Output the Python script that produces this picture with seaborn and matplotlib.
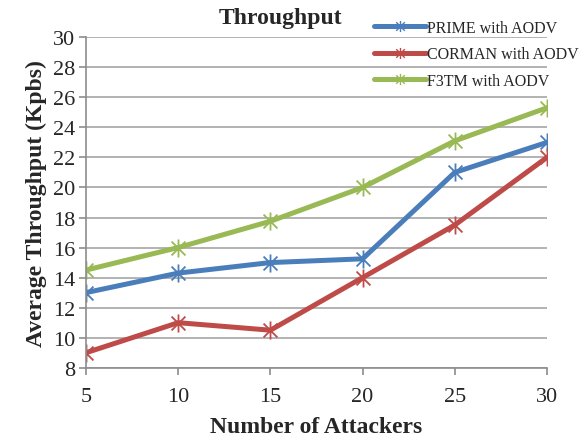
import pandas as pd
import matplotlib.pyplot as plt
import seaborn as sns
from matplotlib.path import Path
from matplotlib.lines import Line2D

attackers = [5, 10, 15, 20, 25, 30]
prime = [13.0, 14.3, 15.0, 15.25, 21.0, 23.0]
corman = [9.0, 11.0, 10.5, 14.0, 17.5, 22.0]
f3tm = [14.5, 16.0, 17.75, 20.0, 23.1, 25.3]
labels = ['PRIME with AODV', 'CORMAN with AODV', 'F3TM with AODV']
colors = ['#4A7EBB', '#BE4B48', '#98B954']

df = pd.concat([
    pd.DataFrame({'attackers': attackers, 'throughput': vals, 'scheme': lab})
    for vals, lab in zip([prime, corman, f3tm], labels)
])

# excel-style star marker: an X plus a vertical bar
star = Path([(-1, -1), (1, 1), (-1, 1), (1, -1), (0, -1.3), (0, 1.3)],
            [Path.MOVETO, Path.LINETO, Path.MOVETO, Path.LINETO, Path.MOVETO, Path.LINETO])

sns.set_style('white')
plt.rcParams['font.family'] = ['Liberation Serif', 'DejaVu Serif']

fig = plt.figure(figsize=(5.85, 4.39), dpi=100)
ax = fig.add_axes([0.147, 0.16, 0.788, 0.753])

sns.lineplot(data=df, x='attackers', y='throughput', hue='scheme',
             palette=colors, marker=star, markersize=13, markeredgewidth=1.3,
             linewidth=3.6, ax=ax, legend=False)
for line, c in zip(ax.get_lines(), colors):
    line.set_markeredgecolor(c)

ax.set_xlim(5, 30)
ax.set_ylim(8, 30)
ax.set_xticks(attackers)
ax.set_yticks(range(8, 31, 2))
ax.yaxis.grid(True, color='#A6A6A6', linewidth=1.2)
ax.set_axisbelow(True)
for s in ['top', 'right']:
    ax.spines[s].set_visible(False)
for s in ['left', 'bottom']:
    ax.spines[s].set_color('#8C8C8C')
    ax.spines[s].set_linewidth(1.2)
ax.tick_params(axis='both', which='both', direction='out', length=5,
               width=1.2, color='#8C8C8C', labelsize=16, left=True, bottom=True)
ax.tick_params(axis='x', pad=9)
ax.tick_params(axis='y', pad=3)

ax.set_xlabel('Number of Attackers', fontsize=17, fontweight='bold', labelpad=7)
ax.set_ylabel('Average Throughput (Kpbs)', fontsize=17, fontweight='bold', labelpad=4)
fig.text(0.48, 0.958, 'Throughput', ha='center', va='center', fontsize=17, fontweight='bold')

handles = [Line2D([], [], color=c, linewidth=3.6, marker=star, markersize=8,
                  markeredgewidth=1, markeredgecolor=c) for c in colors]
ax.legend(handles, labels, loc='upper left', bbox_to_anchor=(0.628, 0.967),
          bbox_transform=fig.transFigure, frameon=False, fontsize=11.5,
          handlelength=3.3, labelspacing=0.65, handletextpad=0.05,
          borderaxespad=0, numpoints=1)

fig.savefig('out.png', dpi=100)
